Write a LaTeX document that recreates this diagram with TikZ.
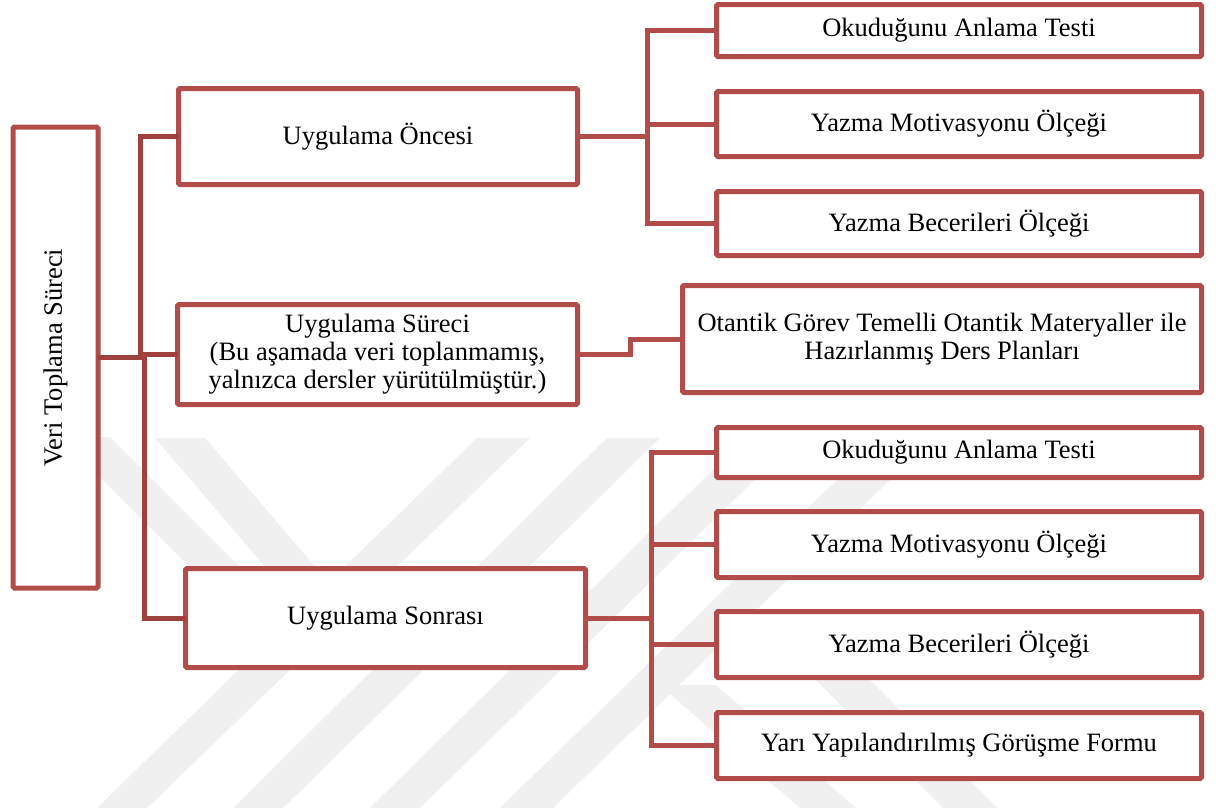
\documentclass[tikz,border=0pt]{standalone}
\usepackage{fontspec}
\setmainfont{Liberation Serif}
\definecolor{boxred}{RGB}{178,76,74}
\definecolor{linkred}{RGB}{160,64,62}
\definecolor{wm}{RGB}{240,240,240}
\begin{document}
\begin{tikzpicture}[x=1pt,y=-1pt,
  box/.style={draw=boxred, line width=5pt, fill=white, rounded corners=1.5pt,
    inner sep=0pt, outer sep=0pt, align=center,
    font=\fontsize{26.5}{28}\selectfont},
  link/.style={draw=boxred, line width=5pt},
  linkdark/.style={draw=linkred, line width=5pt},
  band/.style={fill=wm, draw=none}]
\useasboundingbox (0,0) rectangle (1221,811);
\fill[white] (0,0) rectangle (1221,811);
% faint watermark
\fill[band] (97,808) -- (147,808) -- (530,438) -- (477,438) -- cycle;
\fill[band] (233,808) -- (283,808) -- (660,438) -- (607,438) -- cycle;
\fill[band] (370,808) -- (420,808) -- (797,438) -- (745,438) -- cycle;
\fill[band] (500,808) -- (553,808) -- (890,480) -- (837,480) -- cycle;
\fill[band] (155,438) -- (205,438) -- (335,590) -- (285,590) -- cycle;
\fill[band] (60,437) -- (110,437) -- (263,590) -- (213,590) -- cycle;
\fill[band] (660,685) -- (716,685) -- (856,808) -- (800,808) -- cycle;
\fill[band] (816,680) -- (870,680) -- (997,808) -- (943,808) -- cycle;

% boxes
\node[box, minimum width=85pt, minimum height=461pt] (root) at (55.5,357.5) {\rotatebox{90}{Veri Toplama Süreci}};
\node[box, minimum width=399pt, minimum height=96pt] (onc) at (378,136.5) {Uygulama Öncesi};
\node[box, minimum width=400pt, minimum height=100pt] (sur) at (377.5,354.5) {Uygulama Süreci\\(Bu aşamada veri toplanmamış,\\yalnızca dersler yürütülmüştür.)};
\node[box, minimum width=400pt, minimum height=99pt] (son) at (385.5,618) {Uygulama Sonrası};

\node[box, minimum width=485pt, minimum height=52pt] (t1) at (959,30.5) {Okuduğunu Anlama Testi};
\node[box, minimum width=485pt, minimum height=65pt] (t2) at (959,124) {Yazma Motivasyonu Ölçeği};
\node[box, minimum width=485pt, minimum height=64pt] (t3) at (959,223.5) {Yazma Becerileri Ölçeği};

\node[box, minimum width=519pt, minimum height=107pt] (ota) at (942,339) {Otantik Görev Temelli Otantik Materyaller ile\\Hazırlanmış Ders Planları};

\node[box, minimum width=485pt, minimum height=50pt] (s1) at (959,452.5) {Okuduğunu Anlama Testi};
\node[box, minimum width=485pt, minimum height=66pt] (s2) at (959,544.5) {Yazma Motivasyonu Ölçeği};
\node[box, minimum width=485pt, minimum height=66pt] (s3) at (959,644.5) {Yazma Becerileri Ölçeği};
\node[box, minimum width=485pt, minimum height=66pt] (s4) at (959,745.5) {Yarı Yapılandırılmış Görüşme Formu};

% bus coordinates
\coordinate (busL1) at (140,0);
\coordinate (busL2) at (144,0);
\coordinate (busA) at (647.5,0);
\coordinate (stepx) at (630.5,0);
\coordinate (busB) at (651.5,0);

% left connectors
\draw[linkdark] (onc.west) -- (onc.west -| busL1) -- (busL1 |- root.east);
\draw[linkdark] (son.west) -- (son.west -| busL2) -- (sur.west -| busL2) -- (sur.west);
\draw[linkdark] (root.east) -- (root.east -| busL2);

% Oncesi connectors
\draw[link] (t1.west) -- (t1.west -| busA) -- (t3.west -| busA) -- (t3.west);
\draw[link] (onc.east) -- (onc.east -| busA);
\draw[link] (t2.west) -- (t2.west -| busA);

% Sureci connector
\draw[link] (sur.east) -- (sur.east -| stepx) -- (ota.west -| stepx) -- (ota.west);

% Sonrasi connectors
\draw[link] (s1.west) -- (s1.west -| busB) -- (s4.west -| busB) -- (s4.west);
\draw[link] (son.east) -- (son.east -| busB);
\draw[link] (s2.west) -- (s2.west -| busB);
\draw[link] (s3.west) -- (s3.west -| busB);
\end{tikzpicture}
\end{document}
